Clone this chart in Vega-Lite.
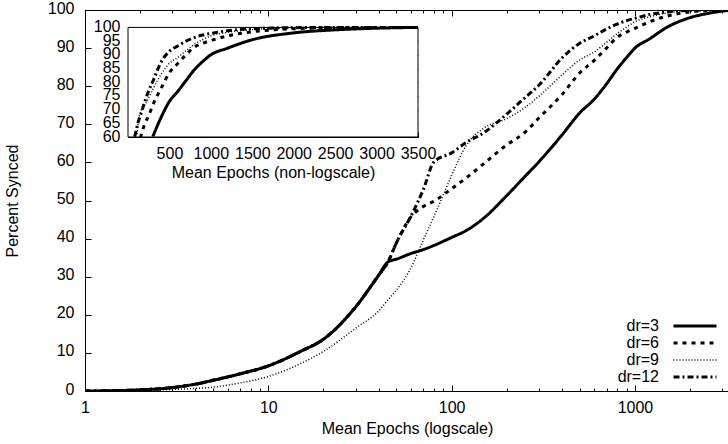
{
  "$schema": "https://vega.github.io/schema/vega-lite/v6.json",
  "width": 644,
  "height": 381,
  "autosize": "none",
  "padding": {"left": 85, "top": 10, "right": 0, "bottom": 53},
  "background": "white",
  "config": {
    "view": {"stroke": "black", "strokeWidth": 1},
    "font": "Liberation Sans",
    "axis": {
      "domainColor": "black", "tickColor": "black", "labelColor": "black", "titleColor": "black",
      "labelFont": "Liberation Sans", "titleFont": "Liberation Sans",
      "labelFontSize": 16, "titleFontSize": 16, "titleFontWeight": "normal",
      "grid": false, "domainWidth": 1, "tickWidth": 1, "labelOverlap": false, "labelFlush": false, "labelBound": false
    }
  },
  "datasets": {
    "curves": [
      {"series": "dr=3", "x": 1, "pct": 0}, {"series": "dr=3", "x": 1.5, "pct": 0.1}, {"series": "dr=3", "x": 2, "pct": 0.3},
      {"series": "dr=3", "x": 3, "pct": 0.9}, {"series": "dr=3", "x": 4, "pct": 1.8}, {"series": "dr=3", "x": 5, "pct": 2.8},
      {"series": "dr=3", "x": 7, "pct": 4.5}, {"series": "dr=3", "x": 10, "pct": 6.6}, {"series": "dr=3", "x": 15, "pct": 10.4},
      {"series": "dr=3", "x": 20, "pct": 13.6}, {"series": "dr=3", "x": 30, "pct": 22.1}, {"series": "dr=3", "x": 40, "pct": 30.4},
      {"series": "dr=3", "x": 45, "pct": 33.9}, {"series": "dr=3", "x": 50, "pct": 34.6}, {"series": "dr=3", "x": 60, "pct": 36.1},
      {"series": "dr=3", "x": 70, "pct": 37.1}, {"series": "dr=3", "x": 80, "pct": 38.2}, {"series": "dr=3", "x": 100, "pct": 40.3},
      {"series": "dr=3", "x": 120, "pct": 42.1}, {"series": "dr=3", "x": 150, "pct": 45.4}, {"series": "dr=3", "x": 200, "pct": 51.3},
      {"series": "dr=3", "x": 250, "pct": 56.2}, {"series": "dr=3", "x": 300, "pct": 60.2}, {"series": "dr=3", "x": 400, "pct": 67.2},
      {"series": "dr=3", "x": 500, "pct": 73.0}, {"series": "dr=3", "x": 600, "pct": 76.6}, {"series": "dr=3", "x": 700, "pct": 80.6},
      {"series": "dr=3", "x": 800, "pct": 84.5}, {"series": "dr=3", "x": 900, "pct": 87.5}, {"series": "dr=3", "x": 1000, "pct": 90.0},
      {"series": "dr=3", "x": 1200, "pct": 92.4}, {"series": "dr=3", "x": 1500, "pct": 95.5}, {"series": "dr=3", "x": 2000, "pct": 98.0},
      {"series": "dr=3", "x": 2500, "pct": 99.1}, {"series": "dr=3", "x": 3000, "pct": 99.7}, {"series": "dr=3", "x": 3500, "pct": 100},

      {"series": "dr=6", "x": 1, "pct": 0}, {"series": "dr=6", "x": 1.5, "pct": 0.1}, {"series": "dr=6", "x": 2, "pct": 0.3},
      {"series": "dr=6", "x": 3, "pct": 0.9}, {"series": "dr=6", "x": 4, "pct": 1.8}, {"series": "dr=6", "x": 5, "pct": 2.8},
      {"series": "dr=6", "x": 7, "pct": 4.5}, {"series": "dr=6", "x": 10, "pct": 6.6}, {"series": "dr=6", "x": 15, "pct": 10.4},
      {"series": "dr=6", "x": 20, "pct": 13.6}, {"series": "dr=6", "x": 30, "pct": 22.1}, {"series": "dr=6", "x": 40, "pct": 30.4},
      {"series": "dr=6", "x": 45, "pct": 33.9}, {"series": "dr=6", "x": 50, "pct": 38.9}, {"series": "dr=6", "x": 60, "pct": 45.7},
      {"series": "dr=6", "x": 70, "pct": 48.4}, {"series": "dr=6", "x": 80, "pct": 49.8}, {"series": "dr=6", "x": 100, "pct": 53.1},
      {"series": "dr=6", "x": 120, "pct": 55.9}, {"series": "dr=6", "x": 150, "pct": 59.7}, {"series": "dr=6", "x": 200, "pct": 64.6},
      {"series": "dr=6", "x": 250, "pct": 67.8}, {"series": "dr=6", "x": 300, "pct": 71.7}, {"series": "dr=6", "x": 400, "pct": 77.8},
      {"series": "dr=6", "x": 500, "pct": 83.5}, {"series": "dr=6", "x": 600, "pct": 86.8}, {"series": "dr=6", "x": 700, "pct": 90.0},
      {"series": "dr=6", "x": 800, "pct": 92.8}, {"series": "dr=6", "x": 900, "pct": 94.2}, {"series": "dr=6", "x": 1000, "pct": 95.2},
      {"series": "dr=6", "x": 1200, "pct": 96.9}, {"series": "dr=6", "x": 1500, "pct": 98.4}, {"series": "dr=6", "x": 2000, "pct": 99.5},
      {"series": "dr=6", "x": 2500, "pct": 99.9}, {"series": "dr=6", "x": 3000, "pct": 100}, {"series": "dr=6", "x": 3500, "pct": 100},

      {"series": "dr=9", "x": 1, "pct": 0}, {"series": "dr=9", "x": 1.5, "pct": 0.05}, {"series": "dr=9", "x": 2, "pct": 0.15},
      {"series": "dr=9", "x": 3, "pct": 0.4}, {"series": "dr=9", "x": 4, "pct": 0.7}, {"series": "dr=9", "x": 5, "pct": 1.0},
      {"series": "dr=9", "x": 7, "pct": 2.1}, {"series": "dr=9", "x": 10, "pct": 3.8}, {"series": "dr=9", "x": 15, "pct": 7.2},
      {"series": "dr=9", "x": 20, "pct": 10.4}, {"series": "dr=9", "x": 30, "pct": 16.5}, {"series": "dr=9", "x": 40, "pct": 21.0},
      {"series": "dr=9", "x": 45, "pct": 23.9}, {"series": "dr=9", "x": 50, "pct": 26.5}, {"series": "dr=9", "x": 60, "pct": 32.3},
      {"series": "dr=9", "x": 70, "pct": 39.6}, {"series": "dr=9", "x": 80, "pct": 45.7}, {"series": "dr=9", "x": 100, "pct": 56.6},
      {"series": "dr=9", "x": 110, "pct": 61.0}, {"series": "dr=9", "x": 120, "pct": 64.4}, {"series": "dr=9", "x": 150, "pct": 69.0},
      {"series": "dr=9", "x": 200, "pct": 71.5}, {"series": "dr=9", "x": 250, "pct": 74.3}, {"series": "dr=9", "x": 300, "pct": 77.4},
      {"series": "dr=9", "x": 400, "pct": 82.9}, {"series": "dr=9", "x": 500, "pct": 86.9}, {"series": "dr=9", "x": 600, "pct": 89.0},
      {"series": "dr=9", "x": 700, "pct": 91.5}, {"series": "dr=9", "x": 800, "pct": 93.8}, {"series": "dr=9", "x": 900, "pct": 95.5},
      {"series": "dr=9", "x": 1000, "pct": 96.9}, {"series": "dr=9", "x": 1200, "pct": 98.2}, {"series": "dr=9", "x": 1500, "pct": 99.2},
      {"series": "dr=9", "x": 2000, "pct": 99.9}, {"series": "dr=9", "x": 2500, "pct": 100}, {"series": "dr=9", "x": 3000, "pct": 100},
      {"series": "dr=9", "x": 3500, "pct": 100},

      {"series": "dr=12", "x": 1, "pct": 0}, {"series": "dr=12", "x": 1.5, "pct": 0.1}, {"series": "dr=12", "x": 2, "pct": 0.3},
      {"series": "dr=12", "x": 3, "pct": 0.9}, {"series": "dr=12", "x": 4, "pct": 1.8}, {"series": "dr=12", "x": 5, "pct": 2.8},
      {"series": "dr=12", "x": 7, "pct": 4.5}, {"series": "dr=12", "x": 10, "pct": 6.6}, {"series": "dr=12", "x": 15, "pct": 10.4},
      {"series": "dr=12", "x": 20, "pct": 13.6}, {"series": "dr=12", "x": 30, "pct": 22.1}, {"series": "dr=12", "x": 40, "pct": 30.4},
      {"series": "dr=12", "x": 45, "pct": 33.9}, {"series": "dr=12", "x": 50, "pct": 38.9}, {"series": "dr=12", "x": 60, "pct": 45.9},
      {"series": "dr=12", "x": 70, "pct": 52.8}, {"series": "dr=12", "x": 80, "pct": 60.1}, {"series": "dr=12", "x": 100, "pct": 62.5},
      {"series": "dr=12", "x": 120, "pct": 65.2}, {"series": "dr=12", "x": 150, "pct": 67.8}, {"series": "dr=12", "x": 200, "pct": 72.7},
      {"series": "dr=12", "x": 250, "pct": 76.9}, {"series": "dr=12", "x": 300, "pct": 80.3}, {"series": "dr=12", "x": 400, "pct": 87.4},
      {"series": "dr=12", "x": 500, "pct": 91.3}, {"series": "dr=12", "x": 600, "pct": 93.2}, {"series": "dr=12", "x": 700, "pct": 95.0},
      {"series": "dr=12", "x": 800, "pct": 96.3}, {"series": "dr=12", "x": 900, "pct": 97.2}, {"series": "dr=12", "x": 1000, "pct": 97.8},
      {"series": "dr=12", "x": 1200, "pct": 98.8}, {"series": "dr=12", "x": 1500, "pct": 99.5}, {"series": "dr=12", "x": 2000, "pct": 99.9},
      {"series": "dr=12", "x": 2500, "pct": 100}, {"series": "dr=12", "x": 3000, "pct": 100}, {"series": "dr=12", "x": 3500, "pct": 100}
    ]
  },
  "data": {"name": "curves"},
  "layer": [
    {
      "layer": [
        {
          "mark": {"type": "line", "color": "black", "strokeCap": "butt", "clip": true, "interpolate": "monotone"},
          "encoding": {
            "x": {
              "field": "x", "type": "quantitative",
              "scale": {"type": "log", "domain": [1, 3260], "nice": false},
              "axis": {
                "title": "Mean Epochs (logscale)",
                "values": [1, 2, 3, 4, 5, 6, 7, 8, 9, 10, 20, 30, 40, 50, 60, 70, 80, 90, 100, 200, 300, 400, 500, 600, 700, 800, 900, 1000, 2000, 3000],
                "format": "d",
                "labelExpr": "indexof([1, 10, 100, 1000], datum.value) >= 0 ? datum.label : ''",
                "tickSize": {"condition": {"test": "indexof([1, 10, 100, 1000], datum.value) >= 0", "value": -6}, "value": -3},
                "labelPadding": 14,
                "titleY": 42, "titleBaseline": "alphabetic"
              }
            },
            "y": {
              "field": "pct", "type": "quantitative",
              "scale": {"domain": [0, 100], "nice": false},
              "axis": {
                "title": "Percent Synced",
                "values": [0, 10, 20, 30, 40, 50, 60, 70, 80, 90, 100],
                "tickSize": -6, "labelPadding": 17, "labelOffset": -2,
                "titleX": -73, "titleY": 190.5, "titleAngle": 270, "titleBaseline": "middle", "titleAlign": "center"
              }
            },
            "strokeDash": {
              "field": "series", "type": "nominal",
              "scale": {"domain": ["dr=3", "dr=6", "dr=9", "dr=12"], "range": [[1, 0], [4, 5], [1, 2], [6, 3, 2, 3]]},
              "legend": {
                "title": null, "orient": "none", "legendX": 602, "legendY": 308,
                "symbolType": "stroke", "symbolSize": 1849, "symbolStrokeWidth": 3, "symbolStrokeColor": "black",
                "labelAlign": "right", "labelOffset": -44, "labelFontSize": 16, "labelFont": "Liberation Sans", "labelColor": "black",
                "rowPadding": 1, "padding": 0,
                "encode": {"symbols": {"update": {"strokeWidth": {"signal": "datum.value === 'dr=9' ? 1.5 : 3"}}}}
              }
            },
            "strokeWidth": {"condition": {"test": "datum.series === 'dr=9'", "value": 1.5}, "value": 3}
          }
        },
        {
          "mark": {"type": "point", "opacity": 0},
          "encoding": {
            "x": {
              "field": "x", "type": "quantitative",
              "axis": {
                "orient": "top", "title": null, "labels": false, "domain": false,
                "values": [1, 2, 3, 4, 5, 6, 7, 8, 9, 10, 20, 30, 40, 50, 60, 70, 80, 90, 100, 200, 300, 400, 500, 600, 700, 800, 900, 1000, 2000, 3000],
                "tickSize": {"condition": {"test": "indexof([1, 10, 100, 1000], datum.value) >= 0", "value": -6}, "value": -3}
              }
            },
            "y": {"field": "pct", "type": "quantitative", "axis": null}
          }
        }
      ],
      "resolve": {"axis": {"x": "independent", "y": "independent"}}
    },
    {
      "layer": [
        {
          "data": {"values": [{}]},
          "mark": {"type": "rect", "fill": "white", "stroke": "black", "strokeWidth": 1},
          "encoding": {
            "x": {
              "datum": 0, "type": "quantitative",
              "scale": {"domain": [0, 3500], "nice": false, "range": [43, 333]},
              "axis": {
                "orient": "bottom", "offset": -254, "title": "Mean Epochs (non-logscale)",
                "values": [500, 1000, 1500, 2000, 2500, 3000, 3500], "format": "d",
                "tickSize": -5, "labelPadding": 13, "titleY": 40, "titleBaseline": "alphabetic"
              }
            },
            "x2": {"datum": 3500},
            "y": {
              "datum": 60, "type": "quantitative",
              "scale": {"domain": [60, 100], "nice": false, "range": [127, 17.4]},
              "axis": {
                "orient": "left", "offset": -43, "title": null,
                "values": [60, 65, 70, 75, 80, 85, 90, 95, 100],
                "tickSize": -5, "labelPadding": 13, "labelOffset": -1
              }
            },
            "y2": {"datum": 100}
          }
        },
        {
          "transform": [{"filter": "datum.pct >= 59.5 && datum.x <= 3500"}],
          "mark": {"type": "line", "color": "black", "strokeCap": "butt", "interpolate": "monotone"},
          "encoding": {
            "x": {
              "field": "x", "type": "quantitative",
              "axis": {"orient": "top", "offset": -17.4, "title": null, "labels": false, "domain": false,
                       "values": [500, 1000, 1500, 2000, 2500, 3000], "tickSize": -5}
            },
            "y": {
              "field": "pct", "type": "quantitative",
              "axis": {"orient": "right", "offset": -311, "title": null, "labels": false, "domain": false,
                       "values": [65, 70, 75, 80, 85, 90, 95], "tickSize": -5}
            },
            "strokeDash": {"field": "series", "type": "nominal", "legend": null},
            "strokeWidth": {"condition": {"test": "datum.series === 'dr=9'", "value": 1.5}, "value": 3}
          }
        }
      ],
      "resolve": {"axis": {"x": "independent", "y": "independent"}}
    }
  ],
  "resolve": {"scale": {"x": "independent", "y": "independent"}}
}
